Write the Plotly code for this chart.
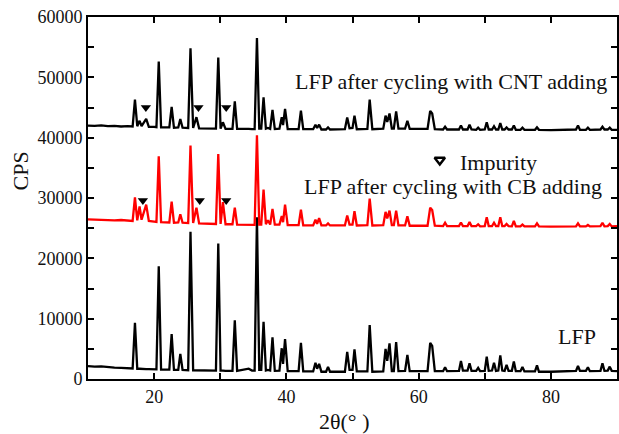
import plotly.graph_objects as go

# 2-theta vertex positions (degrees) shared by the three patterns
two_theta = [
    10.0, 11.0, 12.0, 13.0, 14.0, 15.0, 16.0, 16.75, 17.1, 17.45,
    17.8, 18.1, 18.8, 19.2, 20.0, 20.35, 20.7, 21.05, 22.3, 22.65,
    23.0, 23.65, 23.96, 24.3, 25.15, 25.5, 25.9, 26.4, 26.8, 29.35,
    29.7, 30.05, 30.4, 30.8, 31.85, 32.2, 32.55, 33.5, 34.3, 34.8,
    35.2, 35.55, 35.9, 36.2, 36.55, 36.9, 37.2, 37.55, 37.9, 38.25,
    38.95, 39.3, 39.5, 39.8, 40.2, 41.85, 42.2, 42.55, 44.05, 44.4,
    44.65, 44.95, 45.3, 46.0, 46.3, 46.6, 48.85, 49.2, 49.55, 50.0,
    50.3, 50.65, 52.25, 52.6, 53.0, 54.65, 55.0, 55.25, 55.6, 55.95,
    56.25, 56.6, 56.95, 57.95, 58.3, 58.65, 61.35, 61.75, 62.05, 62.45,
    63.7, 64.0, 64.3, 66.1, 66.4, 66.7, 67.4, 67.7, 68.0, 68.7,
    69.0, 69.3, 70.0, 70.3, 70.6, 71.1, 71.4, 71.7, 72.05, 72.35,
    72.65, 73.0, 73.3, 73.6, 74.1, 74.4, 74.7, 75.4, 75.7, 76.0,
    77.6, 77.9, 78.2, 80.0, 82.0, 83.8, 84.1, 84.4, 85.3, 85.6,
    85.9, 87.5, 87.8, 88.1, 88.6, 88.9, 89.2, 90.0,
]

# pristine LFP
cps_lfp = [
    2150, 2050, 2100, 1950, 1900, 1850, 1800, 1750, 9300, 1700,
    1700, 1650, 1650, 1650, 1600, 1600, 18700, 1550, 1550, 7450,
    1500, 1500, 4150, 1500, 1450, 24400, 1450, 1450, 1400, 1400,
    22450, 1400, 1400, 1350, 1350, 9750, 1350, 1500, 1700, 1400,
    1400, 26800, 1500, 1500, 9500, 1400, 1500, 1400, 6900, 1350,
    1400, 5100, 2500, 6600, 1300, 1300, 6000, 1250, 1250, 2700,
    1700, 2500, 1200, 1200, 2000, 1200, 1200, 4500, 1500, 1500,
    4900, 1250, 1250, 8950, 1200, 1250, 5000, 3000, 5900, 1300,
    1300, 6100, 1300, 1350, 4000, 1300, 1300, 6000, 5500, 1300,
    1300, 1950, 1300, 1350, 3000, 1400, 1400, 2600, 1350, 1350,
    1850, 1300, 1350, 3700, 1350, 1400, 2700, 1350, 1400, 3900,
    1400, 1350, 2350, 1350, 1350, 2900, 1300, 1300, 2000, 1250,
    1250, 2250, 1200, 1200, 1250, 1350, 2150, 1350, 1350, 1950,
    1300, 1350, 2600, 1350, 1400, 2050, 1350, 1300,
]

# LFP after cycling with CB adding
cps_cb = [
    26450, 26400, 26350, 26400, 26300, 26350, 26250, 26200, 30100, 26300,
    28600, 26400, 28900, 26200, 26100, 26050, 36900, 26000, 25950, 29400,
    25900, 25950, 27300, 25900, 25850, 38700, 25850, 28400, 25800, 25700,
    37300, 25700, 29300, 25650, 25650, 28400, 25600, 25600, 25650, 25550,
    25550, 40400, 25600, 25600, 31400, 25650, 26300, 25600, 28200, 25600,
    25600, 27000, 26000, 28900, 25500, 25500, 28050, 25450, 25450, 26400,
    25700, 26650, 25450, 25450, 25800, 25450, 25450, 27100, 25600, 25600,
    27800, 25450, 25500, 29900, 25450, 25500, 27700, 26600, 27900, 25500,
    25500, 27900, 25450, 25450, 26950, 25400, 25400, 28400, 28000, 25400,
    25350, 25900, 25350, 25350, 25950, 25350, 25350, 26000, 25350, 25350,
    25650, 25300, 25350, 26800, 25350, 25350, 25900, 25350, 25350, 26800,
    25350, 25350, 25700, 25350, 25300, 26200, 25300, 25300, 25600, 25300,
    25300, 25800, 25300, 25250, 25300, 25300, 25800, 25300, 25300, 25550,
    25300, 25350, 25900, 25300, 25350, 25700, 25300, 25350,
]

# LFP after cycling with CNT adding
cps_cnt = [
    42000, 41950, 42050, 41900, 41950, 41850, 41900, 41850, 46300, 41900,
    42800, 41900, 43100, 41800, 41800, 41750, 52600, 41700, 41700, 45100,
    41650, 41700, 43100, 41650, 41600, 54800, 41600, 43400, 41550, 41500,
    53300, 41500, 42550, 41450, 41450, 46000, 41450, 41500, 41450, 41400,
    41400, 56500, 41500, 41500, 46700, 41500, 41600, 41450, 44600, 41450,
    41500, 43400, 42100, 44750, 41400, 41400, 44500, 41400, 41400, 42150,
    41600, 42150, 41350, 41350, 41700, 41350, 41400, 43350, 41550, 41600,
    43650, 41400, 41450, 46300, 41400, 41500, 43650, 42600, 44000, 41500,
    41500, 44350, 41500, 41500, 42800, 41450, 41450, 44450, 44000, 41400,
    41350, 41800, 41350, 41350, 42000, 41350, 41350, 42150, 41350, 41300,
    41650, 41300, 41350, 42550, 41350, 41350, 41900, 41350, 41350, 42400,
    41350, 41350, 41700, 41350, 41350, 42000, 41300, 41300, 41650, 41300,
    41300, 41700, 41300, 41250, 41300, 41350, 42000, 41300, 41300, 41650,
    41300, 41350, 41800, 41350, 41350, 41650, 41300, 41300,
]

# impurity markers (position, height)
imp_cnt_x = [18.75, 26.7, 30.9]
imp_cnt_y = [45000, 45000, 45000]
imp_cb_x = [18.3, 26.9, 30.9]
imp_cb_y = [29600, 29600, 29600]

labels = ["LFP after cycling with CNT adding", "Impurity",
          "LFP after cycling with CB adding", "LFP"]

FONT = "Liberation Serif, Times New Roman, serif"

fig = go.Figure()
fig.add_trace(go.Scatter(x=two_theta, y=cps_lfp, mode="lines",
                         line=dict(color="black", width=2.3)))
fig.add_trace(go.Scatter(x=two_theta, y=cps_cb, mode="lines",
                         line=dict(color="#ff0000", width=2.3)))
fig.add_trace(go.Scatter(x=two_theta, y=cps_cnt, mode="lines",
                         line=dict(color="black", width=2.3)))
fig.add_trace(go.Scatter(x=imp_cnt_x + imp_cb_x, y=imp_cnt_y + imp_cb_y,
                         mode="markers",
                         marker=dict(symbol="triangle-down", size=9, color="black")))
# legend-like marker for "Impurity"
fig.add_trace(go.Scatter(x=[63.2], y=[36300], mode="markers",
                         marker=dict(symbol="triangle-down-open", size=9,
                                     color="black", line=dict(width=2.5))))

ann_font = dict(family=FONT, size=22, color="#111")
fig.add_annotation(x=41.0, y=49300, text=labels[0], showarrow=False,
                   xanchor="left", yanchor="middle", font=ann_font)
fig.add_annotation(x=66.0, y=35900, text=labels[1], showarrow=False,
                   xanchor="left", yanchor="middle", font=ann_font)
fig.add_annotation(x=42.3, y=31900, text=labels[2], showarrow=False,
                   xanchor="left", yanchor="middle", font=ann_font)
fig.add_annotation(x=80.8, y=7030, text=labels[3], showarrow=False,
                   xanchor="left", yanchor="middle", font=ann_font)

# axis titles
fig.add_annotation(xref="paper", yref="paper", x=0, y=(379 - 171) / 362,
                   xshift=-68.5, text="CPS", textangle=-90, showarrow=False,
                   xanchor="center", yanchor="middle",
                   font=dict(family=FONT, size=22, color="#111"))
fig.add_annotation(xref="paper", yref="paper", x=(345 - 88) / 531, y=0,
                   yshift=-42, text="2θ(° )", showarrow=False,
                   xanchor="center", yanchor="middle",
                   font=dict(family=FONT, size=22, color="#111"))

axis_common = dict(showline=True, linewidth=2, linecolor="black", mirror="ticks",
                   ticks="inside", ticklen=6, tickwidth=2, tickcolor="black",
                   showgrid=False, zeroline=False,
                   tickfont=dict(family=FONT, size=18, color="#111"))

fig.update_xaxes(range=[10, 90], tick0=0, dtick=20,
                 minor=dict(dtick=10, tick0=0, ticks="inside", ticklen=6,
                            tickwidth=2, tickcolor="black", showgrid=False),
                 **axis_common)
fig.update_yaxes(range=[0, 60000], tick0=0, dtick=10000, tickformat="d",
                 minor=dict(dtick=5000, tick0=0, ticks="inside", ticklen=6,
                            tickwidth=2, tickcolor="black", showgrid=False),
                 **axis_common)

fig.update_layout(width=619, height=434, showlegend=False,
                  margin=dict(l=88, r=0, t=17, b=55),
                  plot_bgcolor="white", paper_bgcolor="white")

fig.write_html("out.html")
